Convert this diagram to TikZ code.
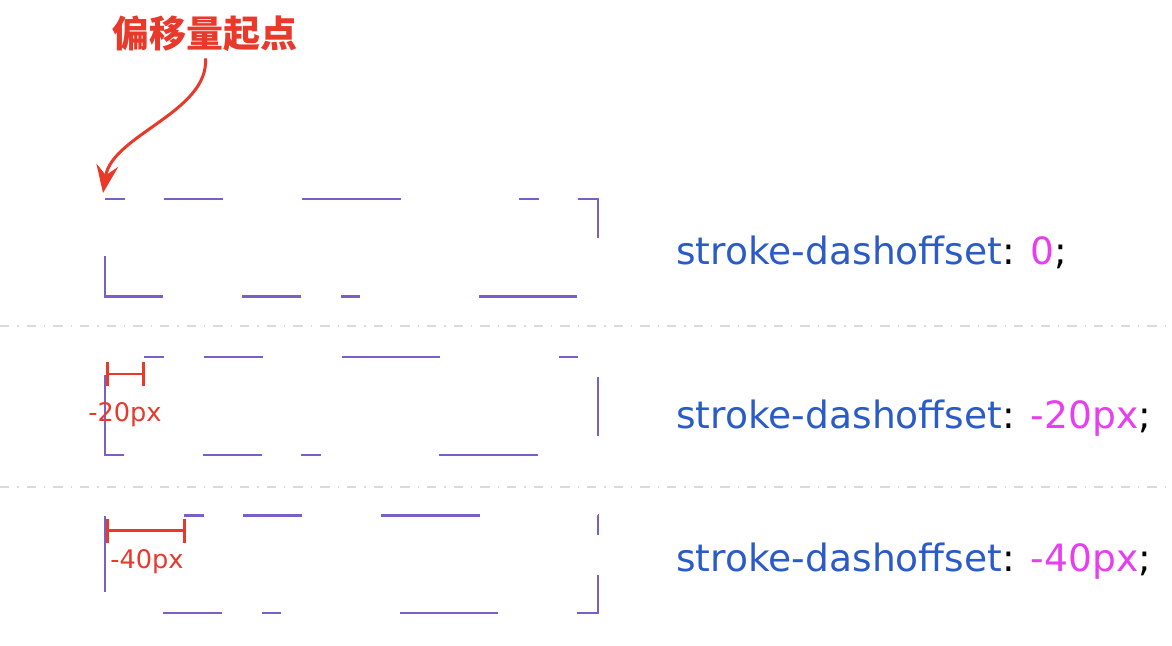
\documentclass[tikz,border=0pt]{standalone}
\usepackage{fontspec}
\setmainfont{DejaVu Sans}
\newfontfamily\cjk{Noto Sans CJK SC}
\usetikzlibrary{arrows.meta}
\definecolor{dashpurple}{RGB}{122,95,200}
\definecolor{notered}{RGB}{232,57,43}
\definecolor{propblue}{RGB}{43,91,201}
\definecolor{valpink}{RGB}{232,62,240}
\definecolor{sepgray}{RGB}{218,218,218}
\tikzset{
    dashrect/.style={
        draw=dashpurple,
        line width=1.2pt,
        dash pattern=on 9.86pt off 19.72pt on 29.58pt off 39.44pt on 49.3pt off 59.16pt},
    separator/.style={
        draw=sepgray,
        line width=1.1pt,
        dash pattern=on 4.67pt off 4pt on 0.67pt off 4pt},
    offsetbar/.style={
        draw=notered,
        line width=1.3pt,
        {Bar[width=12pt]}-{Bar[width=12pt]}},
    csstext/.style={
        anchor=base west,
        inner sep=0pt,
        font=\fontsize{18.8}{22}\selectfont},
    pxlabel/.style={
        anchor=base west,
        inner sep=0pt,
        text=notered,
        font=\fontsize{12.8}{15}\selectfont}}

\begin{document}
\begin{tikzpicture}[x=0.5pt,y=-0.5pt]
        \useasboundingbox (0,0) rectangle (1172,646);

        \node[text=notered,font=\cjk\bfseries\fontsize{18.5}{22}\selectfont,inner sep=0pt] (title) at (205,34) {偏移量起点};
        \coordinate (start) at (103,193);
        \draw[notered,line width=1.5pt,-{Stealth[length=14pt,width=11pt,inset=5pt]}]
            (title.south) ++(0.5,6) .. controls (209,112) and (112,135) .. (start);

        % dashed rectangles
        \draw[dashrect] (105,199) -- ++(493,0) -- ++(0,97.5) -- ++(-493,0) -- cycle;
        \draw[dashrect,dash phase=187.34pt] (105,357.3) -- ++(493,0) -- ++(0,97.5) -- ++(-493,0) -- cycle;
        \draw[dashrect,dash phase=167.62pt] (105,515.5) -- ++(493,0) -- ++(0,97.5) -- ++(-493,0) -- cycle;

        % separators
        \coordinate (sepa1) at (0,326);
        \coordinate (sepa2) at (1172,326);
        \coordinate (sepb1) at (0,487);
        \coordinate (sepb2) at (1172,487);
        \draw[separator] (sepa1) -- (sepa2);
        \draw[separator] (sepb1) -- (sepb2);

        % offset markers
        \coordinate (bara1) at (106,374);
        \coordinate (bara2) at (145,374);
        \coordinate (barb1) at (106,530.7);
        \coordinate (barb2) at (185.5,530.7);
        \draw[offsetbar] (bara1) -- (bara2);
        \draw[offsetbar] (barb1) -- (barb2);
        \node[pxlabel] (lbla) at (88,421.5) {-20px};
        \node[pxlabel] (lblb) at (110,568.3) {-40px};

        % css lines
        \node[csstext] (cssa) at (676,265) {\textcolor{propblue}{stroke-dashoffset}: \textcolor{valpink}{0};};
        \node[csstext] (cssb) at (676,429) {\textcolor{propblue}{stroke-dashoffset}: \textcolor{valpink}{-20px};};
        \node[csstext] (cssc) at (676,571.5) {\textcolor{propblue}{stroke-dashoffset}: \textcolor{valpink}{-40px};};
    \end{tikzpicture}
\end{document}
